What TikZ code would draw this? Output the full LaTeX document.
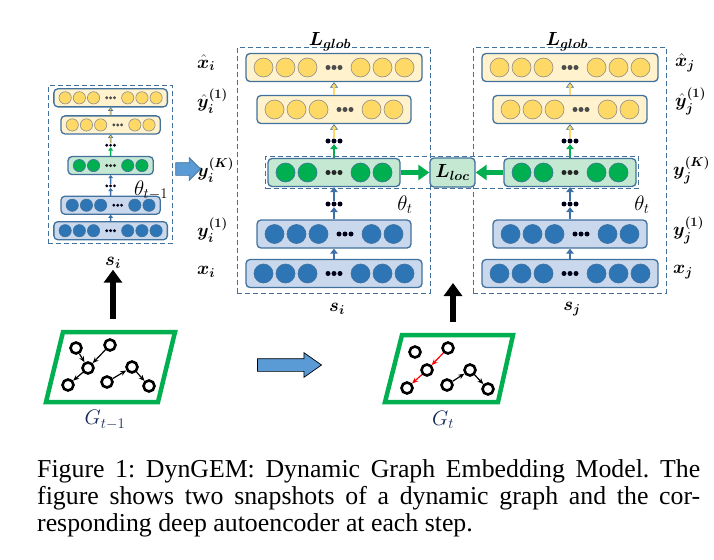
\RequirePackage{fix-cm}
\documentclass[tikz,border=0pt]{standalone}
\usepackage{amsmath}
\usepackage{fontspec}
\setmainfont{Liberation Serif}
\usepackage{bm}
\usetikzlibrary{arrows.meta, shapes.arrows, fit}

\definecolor{edgeblue}{HTML}{41719C}
\definecolor{yelfill}{HTML}{FFF2CC}
\definecolor{yelunit}{HTML}{FFD966}
\definecolor{grnfill}{HTML}{C4E8D1}
\definecolor{grnunit}{HTML}{00B050}
\definecolor{blufill}{HTML}{C9D8EC}
\definecolor{bluunit}{HTML}{2E75B6}
\definecolor{arrblue}{HTML}{3E70A8}
\definecolor{blockfill}{HTML}{5B9BD5}
\definecolor{gcol}{HTML}{14285A}

% one layer: name, x, y, units left, units right, kind (yel/grn/blu)
\newcommand{\nnlayer}[6]{%
  \pgfmathsetmacro{\lyspan}{(#4+#5-2)*22+53}%
  \pgfmathsetmacro{\lywd}{\lyspan+35}%
  \node[nnbox, #6box, minimum width=\lywd pt] (#1) at (#2,#3) {};
  \foreach \ii in {1,...,#4}
    \node[unit, #6cell] at ({#2-\lyspan/2+(\ii-1)*22}, #3) {};
  \foreach \ii in {1,...,#5}
    \node[unit, #6cell] at ({#2+\lyspan/2-(\ii-1)*22}, #3) {};
  \foreach \dd in {-6,0,6}
    \node[dot, #6dot] at ({#2-\lyspan/2+(#4-1)*22+26.5+\dd}, #3) {};
}
% three dots between layers: name, x, y, kind
\newcommand{\dotrow}[4]{%
  \node[minimum width=18pt, minimum height=6pt, inner sep=0pt] (#1) at (#2,#3) {};
  \foreach \dd in {-6,0,6}
    \node[dot, #4dot] at ({#2+\dd}, #3) {};
}

\begin{document}
\frenchspacing
\begin{tikzpicture}[x=1pt, y=-1pt,
        nnbox/.style={rectangle, rounded corners=4pt, draw=edgeblue, line width=1.3pt, minimum height=28pt, inner sep=0pt},
        unit/.style={circle, draw, line width=0.6pt, minimum size=19pt, inner sep=0pt},
        dot/.style={circle, inner sep=0pt, minimum size=5pt},
        yelbox/.style={fill=yelfill}, yelcell/.style={fill=yelunit, draw=black!45}, yeldot/.style={fill=black!70},
        grnbox/.style={fill=grnfill}, grncell/.style={fill=grnunit, draw=edgeblue}, grndot/.style={fill=black!85},
        blubox/.style={fill=blufill}, blucell/.style={fill=bluunit, draw=edgeblue}, bludot/.style={fill=black!90!blue},
        bluarr/.style={draw=arrblue, line width=\aw, -{Triangle[length=0pt 2, width=0pt 3]}},
        grnarr/.style={draw=grnunit, line width=\aw, -{Triangle[length=0pt 2, width=0pt 3]}},
        yelarr/.style={draw=edgeblue, line width=\aw, -{Triangle[length=0pt 2.2, width=0pt 3.2, fill=yelunit, line width=0.6pt]},
            postaction={draw=yelunit, line width=0.45*\aw, -, shorten >=2*\aw}},
        dashbox/.style={draw=edgeblue, dash pattern=on 5pt off 3pt, line width=1.2pt, inner sep=0pt},
        lossarr/.style={draw=grnunit, line width=5pt, -{Triangle[width=15pt, length=11pt]}},
        bigup/.style={line width=6pt, -{Triangle[width=18pt, length=13pt]}},
        blockarr/.style={single arrow, fill=blockfill, line width=0.7pt, inner sep=0pt, inner ysep=6pt},
        gnode/.style={circle, draw, line width=2.6pt, fill=white, minimum size=11pt, inner sep=0pt},
        gedge/.style={-{Stealth[length=6pt, width=5pt]}, line width=1.2pt},
        redge/.style={gedge, red},
        gframe/.style={draw=grnunit, line width=4.5pt},
        labtext/.style={font=\fontsize{18.5}{21}\selectfont, inner sep=1pt},
        losstext/.style={font=\fontsize{19}{22}\selectfont, inner sep=1pt},
        captext/.style={text width=663pt, align=justify, inner sep=0pt, font=\fontsize{25.8}{27}\selectfont}
    ]
    \useasboundingbox (0,0) rectangle (714,559);

    % Autoencoders: o = step t-1 (small), i and j = step t
    \foreach \s/\sx/\sy/\sc in {o/-104.8/54.3/0.645, i/0/0/1, j/236/0/1} {
        \begin{scope}[shift={(\sx,\sy)}, scale=\sc, transform shape]
            \pgfmathsetlengthmacro{\aw}{2.5pt*\sc}
            \nnlayer{x\s}{334}{273.5}{3}{3}{blu}
            \nnlayer{y\s}{334}{234}{3}{2}{blu}
            \dotrow{db\s}{334}{204}{blu}
            \nnlayer{e\s}{334}{172.5}{2}{2}{grn}
            \dotrow{dt\s}{334}{141}{blu}
            \nnlayer{hy\s}{334}{109.5}{3}{2}{yel}
            \nnlayer{hx\s}{334}{67.5}{3}{3}{yel}
            \draw[bluarr] (x\s) -- (y\s);
            \draw[bluarr] (y\s) -- (db\s);
            \draw[bluarr] (db\s) -- (e\s);
            \draw[grnarr] (e\s) -- (dt\s);
            \draw[yelarr] (dt\s) -- (hy\s);
            \draw[yelarr] (hy\s) -- (hx\s);
        \end{scope}
    }

    % Dashed frames
    \node[dashbox, fit=(hxo)(xo), inner xsep=5pt, inner ysep=3pt] (boxo) {};
    \node[dashbox, fit=(hxi)(xi), inner xsep=8pt, inner ysep=5pt] (boxi) {};
    \node[dashbox, fit=(hxj)(xj), inner xsep=8pt, inner ysep=5pt] (boxj) {};
    \node[dashbox, fit=(ei)(ej), inner sep=1.5pt] (boxe) {};

    % Local loss
    \node[nnbox, grnbox, losstext, minimum width=45pt, minimum height=29pt] (lloc) at (452.5,172.5) {$\bm{L_{loc}}$};
    \draw[lossarr] (ei) -- (lloc);
    \draw[lossarr] (ej) -- (lloc);

    % Layer labels
    \node[labtext, anchor=west] (lhxi) at (196,63) {$\bm{\hat{x}_i}$};
    \node[labtext, anchor=west] (lhyi) at (196,101) {$\bm{\hat{y}_i^{(1)}}$};
    \node[labtext, anchor=west] (lei) at (196,170) {$\bm{y_i^{(K)}}$};
    \node[labtext, anchor=west] (lyi) at (196,230) {$\bm{y_i^{(1)}}$};
    \node[labtext, anchor=west] (lxi) at (196,272) {$\bm{x_i}$};
    \node[labtext, anchor=west] (lhxj) at (674,63) {$\bm{\hat{x}_j}$};
    \node[labtext, anchor=west] (lhyj) at (674,101) {$\bm{\hat{y}_j^{(1)}}$};
    \node[labtext, anchor=west] (lej) at (672,170) {$\bm{y_j^{(K)}}$};
    \node[labtext, anchor=west] (lyj) at (672,230) {$\bm{y_j^{(1)}}$};
    \node[labtext, anchor=west] (lxj) at (672,272) {$\bm{x_j}$};

    \node[losstext] (lgi) at (330,42) {$\bm{L_{glob}}$};
    \node[losstext] (lgj) at (567,42) {$\bm{L_{glob}}$};
    \node[labtext] (so) at (113,263) {$\bm{s_i}$};
    \node[labtext] (si) at (337,309) {$\bm{s_i}$};
    \node[labtext] (sj) at (572,309) {$\bm{s_j}$};
    \node[labtext, font=\fontsize{21}{24}\selectfont] (tho) at (151,190) {$\theta_{t-1}$};
    \node[labtext, font=\fontsize{21}{24}\selectfont] (thi) at (405,205) {$\theta_t$};
    \node[labtext, font=\fontsize{21}{24}\selectfont] (thj) at (642,205) {$\theta_t$};

    % Step arrows
    \node[blockarr, draw=edgeblue, minimum height=25pt, single arrow head extend=5pt] (fwd) at (185,169) {};
    \node[blockarr, draw=black, minimum height=64pt, single arrow head extend=6pt, single arrow tip angle=70] (nxt) at (285,365) {};

    % Graph G_{t-1}
    \draw[gframe] (63,332) -- (175,332) -- (158,402) -- (46,402) -- cycle;
    \foreach \n/\x/\y in {1/76/348, 2/110/345, 3/88/368, 4/68/385, 5/107/382, 6/132/367, 7/149/386}
        \node[gnode] (a\n) at (\x,\y) {};
    \foreach \p/\q in {1/3, 2/3, 3/4, 5/6, 6/7}
        \draw[gedge] (a\p) -- (a\q);
    \node[labtext, font=\fontsize{21}{24}\selectfont, text=gcol] (ga) at (105,420) {$G_{t-1}$};

    % Graph G_t
    \draw[gframe] (402,335) -- (513,335) -- (498,402) -- (385,402) -- cycle;
    \foreach \n/\x/\y in {1/415/352, 2/448/348, 3/427/370, 4/407/388, 5/447/385, 6/470/370, 7/488/389}
        \node[gnode] (b\n) at (\x,\y) {};
    \foreach \p/\q in {5/6, 6/7}
        \draw[gedge] (b\p) -- (b\q);
    \foreach \p/\q in {2/3, 3/4}
        \draw[redge] (b\p) -- (b\q);
    \node[labtext, font=\fontsize{21}{24}\selectfont, text=gcol] (gb) at (443,420) {$G_t$};

    % Graph to autoencoder
    \coordinate (ua) at (113,319);
    \draw[bigup] (ua) -- (so.south);
    \coordinate (va) at (453,322);
    \coordinate (vb) at (453,283);
    \draw[bigup] (va) -- (vb);

    % Caption
    \node[captext, anchor=north west] (cap) at (37,459) {Figure 1: DynGEM: Dynamic Graph Embedding Model. The\linebreak figure shows two snapshots of a dynamic graph and the cor-\linebreak responding deep autoencoder at each step.};
\end{tikzpicture}
\end{document}
